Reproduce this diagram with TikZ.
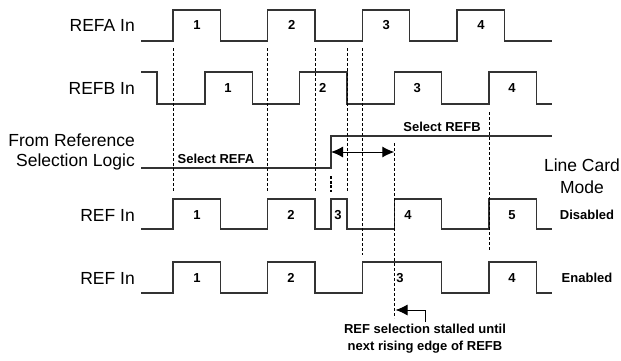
\documentclass[tikz,border=0pt]{standalone}
\usepackage{fontspec}
\setmainfont{Liberation Sans}
\usetikzlibrary{arrows.meta,positioning}

\begin{document}
\begin{tikzpicture}[x=1pt, y=-1pt,
        wave/.style={line width=1.1pt, draw=black!80},
        guide/.style={dash pattern=on 3pt off 2pt, line width=0.7pt},
        sig/.style={font=\fontsize{17.5}{20.5}\selectfont, anchor=east, align=right, inner sep=0pt},
        num/.style={font=\fontsize{13}{17}\selectfont\bfseries, inner sep=1pt},
        tip/.style={line width=1pt, >={Latex[length=12pt,width=11pt]}}
    ]
        \useasboundingbox (0,0) rectangle (621,360);

        % Signal names
        \node[sig] (nameA) at (135,25) {REFA In};
        \node[sig] (nameB) at (135,88) {REFB In};
        \node[sig] (nameSel) at (135,152) {From Reference\\Selection Logic};
        \node[sig] (nameDis) at (135,215) {REF In};
        \node[sig] (nameEn) at (135,278) {REF In};

        % REFA
        \draw[wave] (141,41) foreach \i in {0,1,2,3} {
            -- ({173+94.67*\i},41) -- ++(0,-31) -- ++(47.33,0) -- ++(0,31)
        } -- (552,41);
        \foreach \i in {0,1,2,3} {
            \pgfmathtruncatemacro{\n}{\i+1}
            \node[num] (a\n) at ({197+94.67*\i},25) {\n};
        }

        % REFB
        \draw[wave] (141,72) -- (157,72) -- (157,104) foreach \i in {0,1,2,3} {
            -- ({205+94.67*\i},104) -- ++(0,-32) -- ++(47.33,0) -- ++(0,32)
        } -- (552,104);
        \foreach \i in {0,1,2,3} {
            \pgfmathtruncatemacro{\n}{\i+1}
            \node[num] (b\n) at ({228+94.67*\i},88) {\n};
        }

        % Selection logic
        \coordinate (sw) at (331,168);
        \draw[wave] (141,168) -- (sw) -- (331,136) -- (552,136);
        \node[num] (selA) at (216,159) {Select REFA};
        \node[num] (selB) at (442,127) {Select REFB};

        % REF In, line card mode disabled
        \draw[wave] (141,229) -- (173,229) -- (173,199) -- (220.3,199) -- (220.3,229)
            -- (267.7,229) -- (267.7,199) -- (315,199) -- (315,229) -- (331,229)
            -- (331,199) -- (347,199) -- (347,229) -- (394.3,229) -- (394.3,199)
            -- (441.7,199) -- (441.7,229) -- (489,229) -- (489,199) -- (536.3,199)
            -- (536.3,229) -- (552,229);
        \node[num] (d1) at (197,215) {1};
        \node[num] (d2) at (291,215) {2};
        \node[num] (d3) at (338,215) {3};
        \node[num] (d4) at (408,215) {4};
        \node[num] (d5) at (512,215) {5};

        % REF In, line card mode enabled
        \draw[wave] (141,293) -- (173,293) -- (173,262) -- (220.3,262) -- (220.3,293)
            -- (267.7,293) -- (267.7,262) -- (315,262) -- (315,293) -- (362.3,293)
            -- (362.3,262) -- (441.7,262) -- (441.7,293) -- (489,293) -- (489,262)
            -- (536.3,262) -- (536.3,293) -- (552,293);
        \node[num] (e1) at (197,278) {1};
        \node[num] (e2) at (291,278) {2};
        \node[num] (e3) at (400,278) {3};
        \node[num] (e4) at (512,278) {4};

        % Mode labels
        \node[font=\fontsize{17.5}{22}\selectfont, align=center, inner sep=0pt] (mode) at (582,176) {Line Card\\Mode};
        \node[num] (dis) at (587,215) {Disabled};
        \node[num] (en) at (587,278) {Enabled};

        % Edge guides
        \foreach \x in {173,267.7,315,347} {
            \draw[guide] (\x,48) -- (\x,192);
        }
        \draw[guide] (362.3,48) -- (362.3,255);
        \draw[guide] (394.3,143) -- (394.3,318);
        \draw[guide] (489,112) -- (489,251);
        \draw[dash pattern=on 3pt off 1.5pt, line width=1.8pt] (331,176) -- (331,192);

        % Switch delay
        \coordinate (swup) at (331,152);
        \coordinate (nxt) at (394.3,152);
        \draw[tip, <->] (swup) -- (nxt);

        % Stall note
        \node[num, align=center, inner sep=2pt] (note) at (425,338.5) {REF selection stalled until\\next rising edge of REFB};
        \coordinate (stall) at (395.5,310);
        \draw[tip, ->] (note.north) |- (stall);
    \end{tikzpicture}
\end{document}
